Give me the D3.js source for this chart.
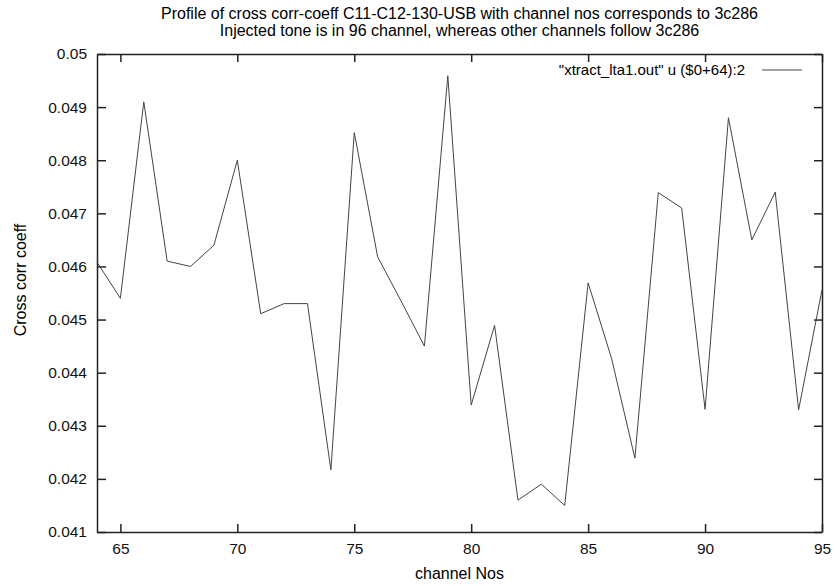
<!DOCTYPE html>
<html>
<head>
<meta charset="utf-8">
<script src="https://cdn.jsdelivr.net/npm/d3@7"></script>
<style>
	body { margin: 0; background: #fff; }
	svg { display: block; font-family: "Liberation Sans", Arial, sans-serif; }
	.axis path, .axis line { stroke: #222; stroke-width: 1.5; }
	.axis text { font-size: 15.5px; fill: #111; }
</style>
</head>
<body>
<svg id="chart" width="836" height="586"></svg>
<script>
/*=================
=== Data
=================*/
const channels = d3.range(64, 96); // 64 .. 95
const corrCoeff = [
	0.04608, 0.0454, 0.0491, 0.0461, 0.0460, 0.0464, 0.0480, 0.04511,
	0.0453, 0.0453, 0.04217, 0.04852, 0.04618, 0.04535, 0.0445, 0.04959,
	0.04339, 0.04489, 0.0416, 0.0419, 0.0415, 0.04569, 0.04427, 0.04239,
	0.04739, 0.0471, 0.04331, 0.0488, 0.0465, 0.0474, 0.0433, 0.04556
];
const xTicks = [65, 70, 75, 80, 85, 90, 95];
const yTicks = [0.041, 0.042, 0.043, 0.044, 0.045, 0.046, 0.047, 0.048, 0.049, 0.05];
const titleLines = [
	'Profile of cross corr-coeff C11-C12-130-USB with channel nos corresponds to 3c286',
	'Injected tone is in 96 channel, whereas other channels follow 3c286'
];
const legendLabel = '"xtract_lta1.out" u ($0+64):2';

const data = channels.map((c, i) => ({ ch: c, v: corrCoeff[i] }));

/*=================
=== Layout
=================*/
const margin = { top: 54, right: 14, bottom: 54, left: 97 };
const svg = d3.select('#chart');
const width = 836 - margin.left - margin.right;
const height = 586 - margin.top - margin.bottom;

const xScale = d3.scaleLinear().domain([64, 95]).range([0, width]);
const yScale = d3.scaleLinear().domain([0.041, 0.05]).range([height, 0]);

const g = svg.append('g')
	.attr('transform', `translate(${margin.left}, ${margin.top})`);

// axes, gnuplot style: ticks point inward and are mirrored
g.append('g')
	.attr('class', 'axis')
	.attr('transform', `translate(0, ${height})`)
	.call(d3.axisBottom(xScale).tickValues(xTicks).tickSize(-8).tickPadding(11).tickSizeOuter(0));

g.append('g')
	.attr('class', 'axis')
	.call(d3.axisTop(xScale).tickValues(xTicks).tickSize(-8).tickFormat('').tickSizeOuter(0));

g.append('g')
	.attr('class', 'axis')
	.call(d3.axisLeft(yScale).tickValues(yTicks).tickSize(-9).tickPadding(10).tickSizeOuter(0)
		.tickFormat(d => String(+d.toFixed(3))));

g.append('g')
	.attr('class', 'axis')
	.attr('transform', `translate(${width}, 0)`)
	.call(d3.axisRight(yScale).tickValues(yTicks).tickSize(-8).tickFormat('').tickSizeOuter(0));

// the data line
const line = d3.line()
	.x(d => xScale(d.ch))
	.y(d => yScale(d.v));

g.append('path')
	.datum(data)
	.attr('fill', 'none')
	.attr('stroke', '#444')
	.attr('stroke-width', 1)
	.attr('d', line);

// legend, top right
const legend = g.append('g')
	.attr('transform', `translate(${width}, 16)`);
legend.append('line')
	.attr('x1', -60).attr('x2', -20)
	.attr('y1', 0).attr('y2', 0)
	.attr('stroke', '#444');
legend.append('text')
	.attr('x', -77)
	.attr('y', 5)
	.attr('text-anchor', 'end')
	.style('font-size', '15px')
	.text(legendLabel);

/*=================
=== Titles and labels
=================*/
svg.append('g')
	.selectAll('text')
	.data(titleLines)
	.enter()
	.append('text')
		.attr('x', margin.left + width / 2)
		.attr('y', (d, i) => 19 + i * 17)
		.attr('text-anchor', 'middle')
		.style('font-size', '16px')
		.text(d => d);

svg.append('text')
	.attr('x', margin.left + width / 2)
	.attr('y', 579)
	.attr('text-anchor', 'middle')
	.style('font-size', '16px')
	.text('channel Nos');

svg.append('text')
	.attr('transform', `translate(26, 280) rotate(-90)`)
	.attr('text-anchor', 'middle')
	.style('font-size', '16px')
	.text('Cross corr coeff');
</script>
</body>
</html>
